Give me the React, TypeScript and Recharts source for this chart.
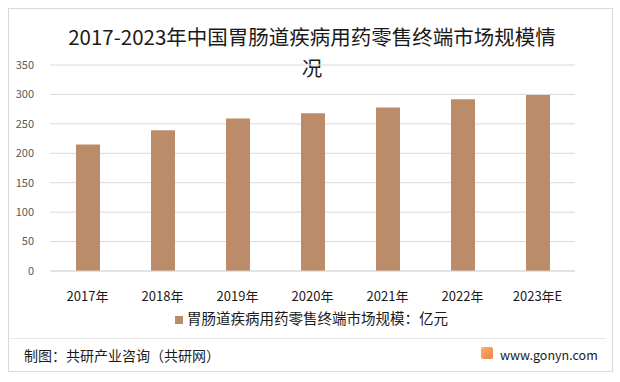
import { BarChart, Bar, XAxis, YAxis, CartesianGrid, Legend } from 'recharts'

// 年份与市场规模（亿元）
const years = ['2017年', '2018年', '2019年', '2020年', '2021年', '2022年', '2023年E']
const sizes = [215, 239, 259, 268, 278, 292, 299]
const yTicks = [0, 50, 100, 150, 200, 250, 300, 350]
const seriesName = '胃肠道疾病用药零售终端市场规模：亿元'

const data = years.map((year, i) => ({ year, value: sizes[i] }))

const font = '"Microsoft YaHei", "Noto Sans CJK SC", "DejaVu Sans", sans-serif'
const barColor = '#BC8C6A'

export default function App() {
  return (
    <div style={{ position: 'absolute', left: 0, top: 0, width: 620, height: 382, background: '#fff', fontFamily: font }}>
      <div style={{ position: 'absolute', left: 8, top: 8, width: 605, height: 364, border: '1px solid #d9d9d9', boxSizing: 'border-box' }} />
      <div style={{ position: 'absolute', left: 34, top: 21, width: 556, textAlign: 'center', fontSize: 20.5, lineHeight: '31px', color: '#1a1a1a' }}>
        2017-2023年中国胃肠道疾病用药零售终端市场规模情<br />况
      </div>
      <BarChart
        width={620}
        height={382}
        data={data}
        margin={{ top: 65, right: 45, left: 10, bottom: 81 }}
        style={{ position: 'absolute', left: 0, top: 0 }}
      >
        <CartesianGrid vertical={false} stroke="#d9d9d9" />
        <XAxis
          dataKey="year"
          height={30}
          axisLine={{ stroke: '#d9d9d9' }}
          tickLine={false}
          tickMargin={15}
          tick={{ fill: '#1a1a1a', fontSize: 13, fontFamily: font }}
        />
        <YAxis
          width={40}
          domain={[0, 350]}
          ticks={yTicks}
          axisLine={false}
          tickLine={false}
          tickMargin={10}
          tick={{ fill: '#595959', fontSize: 11, fontFamily: font }}
        />
        <Legend
          layout="horizontal"
          verticalAlign="middle"
          align="center"
          iconType="square"
          iconSize={8}
          wrapperStyle={{ position: 'absolute', top: 307, left: 0, width: 633, fontSize: 14.5, fontFamily: font }}
          formatter={(v: string) => <span style={{ color: '#1a1a1a' }}>{v}</span>}
        />
        <Bar dataKey="value" name={seriesName} fill={barColor} barSize={24} isAnimationActive={false} />
      </BarChart>
      <div style={{ position: 'absolute', left: 8, top: 338, width: 598, height: 1, background: '#e6e6e6' }} />
      <div style={{ position: 'absolute', left: 24, top: 345, fontSize: 14, color: '#1a1a1a' }}>
        制图：共研产业咨询（共研网）
      </div>
      <div style={{ position: 'absolute', left: 481, top: 347, width: 12, height: 12, borderRadius: 2, background: 'linear-gradient(135deg, #f7b26b, #f0824a)' }} />
      <div style={{ position: 'absolute', left: 500, top: 345, fontSize: 12.5, color: '#1a1a1a' }}>
        www.gonyn.com
      </div>
    </div>
  )
}
